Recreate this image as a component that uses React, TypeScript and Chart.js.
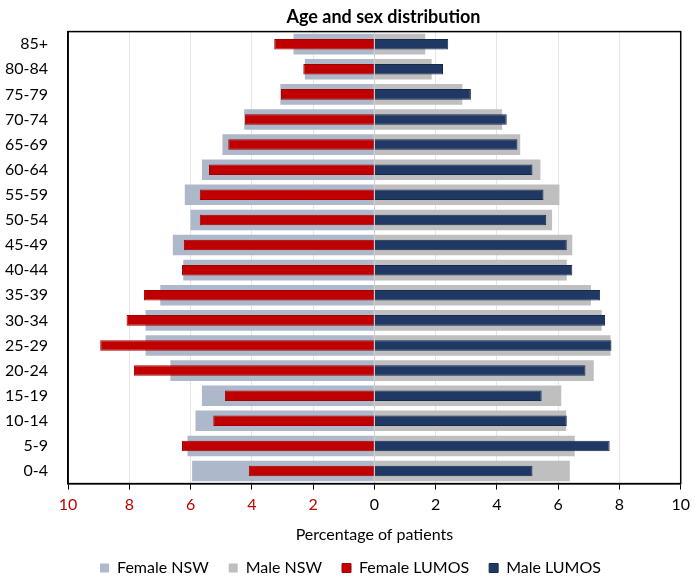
import React, { useEffect, useRef } from "react";
import { Chart, registerables } from "chart.js";

Chart.register(...registerables);

const ageGroups = ["85+", "80-84", "75-79", "70-74", "65-69", "60-64", "55-59", "50-54", "45-49", "40-44", "35-39", "30-34", "25-29", "20-24", "15-19", "10-14", "5-9", "0-4"];
const femaleNSW = [2.64, 2.27, 3.07, 4.25, 4.96, 5.63, 6.19, 6.0, 6.58, 6.24, 6.99, 7.47, 7.47, 6.66, 5.63, 5.84, 6.1, 5.95];
const maleNSW = [1.66, 1.87, 2.87, 4.17, 4.76, 5.42, 6.04, 5.8, 6.46, 6.28, 7.07, 7.42, 7.71, 7.16, 6.1, 6.26, 6.54, 6.38];
const femaleLUMOS = [3.27, 2.32, 3.05, 4.23, 4.77, 5.4, 5.7, 5.7, 6.22, 6.28, 7.52, 8.09, 8.95, 7.85, 4.88, 5.26, 6.28, 4.1];
const maleLUMOS = [2.41, 2.24, 3.15, 4.32, 4.67, 5.16, 5.52, 5.61, 6.28, 6.46, 7.37, 7.53, 7.74, 6.89, 5.46, 6.28, 7.68, 5.16];

const FONT = "Lato, 'Open Sans', sans-serif";

const boxPlugin = {
  id: "boxPlugin",
  afterLayout(chart: any) {
    const t = chart.titleBlock;
    if (t) {
      t.left += 42;
      t.right += 42;
    }
    const l = chart.legend;
    if (l) {
      l.left += 9;
      l.right += 9;
    }
  },
  afterDatasetsDraw(chart: any) {
    const { ctx, chartArea } = chart;
    ctx.save();
    ctx.strokeStyle = "#000";
    ctx.lineWidth = 1.5;
    ctx.strokeRect(chartArea.left, chartArea.top, chartArea.right - chartArea.left, chartArea.bottom - chartArea.top);
    ctx.restore();
  },
};

export default function App() {
  const ref = useRef<HTMLCanvasElement | null>(null);
  useEffect(() => {
    document.body.style.margin = "0";
    if (!ref.current) return;
    const chart = new Chart(ref.current, {
      type: "bar",
      data: {
        labels: ageGroups,
        datasets: [
          { label: "Female NSW", data: femaleNSW.map((v) => -v), backgroundColor: "#adb9ca", barPercentage: 0.82, categoryPercentage: 1, grouped: false, order: 2 },
          { label: "Male NSW", data: maleNSW, backgroundColor: "#bfbfbf", barPercentage: 0.82, categoryPercentage: 1, grouped: false, order: 2 },
          { label: "Female LUMOS", data: femaleLUMOS.map((v) => -v), backgroundColor: "#c00000", borderColor: "#a00000", borderWidth: 1, barPercentage: 0.42, categoryPercentage: 1, grouped: false, order: 1 },
          { label: "Male LUMOS", data: maleLUMOS, backgroundColor: "#203864", borderColor: "#172a4c", borderWidth: 1, barPercentage: 0.42, categoryPercentage: 1, grouped: false, order: 1 },
        ] as any,
      },
      options: {
        indexAxis: "y",
        animation: false,
        responsive: false,
        layout: { padding: { left: -7, right: 6, top: 0, bottom: -4 } },
        plugins: {
          title: {
            display: true,
            text: "Age and sex distribution",
            color: "#000",
            font: { family: FONT, size: 18, weight: "bold" },
            padding: { top: 6, bottom: 4 },
          },
          legend: {
            position: "bottom",
            labels: {
              color: "#000",
              font: { family: FONT, size: 16 },
              boxWidth: 9,
              boxHeight: 9,
              padding: 20,
              sort: (a: any, b: any) => a.datasetIndex - b.datasetIndex,
            },
          },
          tooltip: { enabled: false },
        },
        scales: {
          x: {
            min: -10,
            max: 10,
            ticks: {
              stepSize: 2,
              callback: (v: any) => String(Math.abs(Number(v))),
              color: (c: any) => (c.tick && c.tick.value < 0 ? "#c00000" : "#000"),
              font: { family: FONT, size: 16 },
              padding: 6,
            },
            grid: {
              color: (c: any) => (c.tick && c.tick.value === 0 ? "#d0d0d0" : "#e6e6e6"),
              tickColor: "#000",
              tickLength: 6,
            },
            border: { color: "#000", width: 1.5 },
            title: {
              display: true,
              text: "Percentage of patients",
              color: "#000",
              font: { family: FONT, size: 16 },
              padding: { top: 4, bottom: -4 },
            },
          },
          y: {
            ticks: { color: "#000", font: { family: FONT, size: 16 }, padding: 12 },
            grid: { display: false },
            border: { color: "#000", width: 1.5 },
          },
        },
      },
      plugins: [boxPlugin],
    });
    return () => chart.destroy();
  }, []);
  return <canvas ref={ref} width={696} height={582} style={{ display: "block" }} />;
}
